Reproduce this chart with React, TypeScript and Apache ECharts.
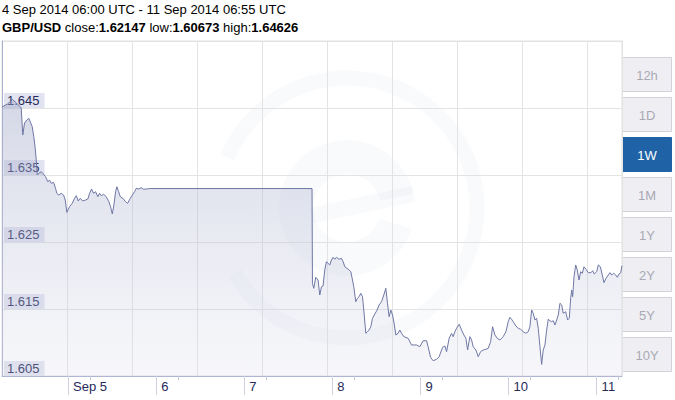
import React, { useEffect, useRef } from "react";
import * as echarts from "echarts";

// time in hours since 4 Sep 2014 00:00 UTC, and GBP/USD price
const hours = [
  6.0, 7.5, 8.86, 9.95, 11.24, 11.67, 12.14, 12.76, 13.31, 13.77,
  14.23, 14.67, 15.05, 15.33, 15.6, 16.03, 16.69, 17.12, 17.86, 18.49,
  18.95, 19.42, 20.04, 20.59, 20.94, 21.49, 22.14, 22.77, 23.23, 23.67,
  24.4, 25.14, 25.77, 26.23, 26.78, 27.32, 28.03, 28.77, 29.39, 29.86,
  30.4, 30.95, 31.49, 32.12, 32.59, 33.05, 33.68, 34.41, 35.12, 35.58,
  36.05, 36.48, 36.95, 37.3, 37.77, 38.23, 38.94, 39.67, 40.22, 40.96,
  41.5, 42.13, 42.59, 43.3, 43.96, 44.58, 45.32, 46.22, 90.47, 90.58,
  90.94, 91.48, 92.11, 92.57, 93.04, 93.47, 93.94, 94.4, 94.84, 95.3,
  95.76, 96.2, 96.66, 97.12, 97.83, 98.49, 98.93, 99.39, 100.02, 100.56,
  101.03, 101.49, 101.84, 102.39, 102.85, 103.29, 103.75, 104.21, 104.57, 105.12,
  105.58, 106.02, 106.48, 106.94, 107.57, 108.2, 108.74, 109.4, 110.02, 110.57,
  111.03, 111.47, 111.93, 112.4, 112.83, 113.3, 113.92, 114.39, 114.85, 115.48,
  116.65, 117.58, 118.94, 119.84, 120.74, 121.66, 122.1, 122.76, 123.46, 124.39,
  125.1, 126.03, 126.66, 127.12, 127.83, 128.48, 128.92, 129.38, 129.85, 130.56,
  131.21, 131.84, 132.38, 132.85, 133.47, 133.94, 134.37, 135.11, 135.74, 136.39,
  137.1, 137.84, 138.46, 139.12, 139.66, 140.29, 140.92, 141.65, 142.55, 143.29,
  143.91, 144.38, 144.84, 145.28, 146.01, 146.64, 147.3, 148.0, 148.74, 149.37,
  149.83, 150.3, 150.73, 151.2, 151.66, 152.1, 152.56, 153.02, 153.46, 153.92,
  154.39, 154.82, 155.28, 155.75, 156.18, 156.65, 157.11, 157.55, 158.01, 158.48,
  158.91, 159.57, 160.11, 160.55, 160.93, 161.21, 161.48, 161.84, 162.3, 162.74,
  163.2, 163.66, 164.1, 164.56, 165.11, 165.73, 166.47, 166.93, 167.37, 168.02,
  168.46, 169.01, 169.55, 170.01, 170.56, 171.18, 171.65, 172.11, 172.65, 173.2,
  173.64, 174.1, 174.56, 174.92,
];

const prices = [
  1.64515, 1.6456, 1.64626, 1.64575, 1.645, 1.64097, 1.64276, 1.64321, 1.64346, 1.64287,
  1.64221, 1.64072, 1.63898, 1.63724, 1.635, 1.63525, 1.63549, 1.63525, 1.63475, 1.634,
  1.63425, 1.63376, 1.63391, 1.63301, 1.63227, 1.63201, 1.63227, 1.63201, 1.63127, 1.62943,
  1.63027, 1.63078, 1.63152, 1.63191, 1.63112, 1.63152, 1.63112, 1.63127, 1.63142, 1.63227,
  1.63291, 1.63227, 1.63251, 1.63176, 1.63227, 1.63191, 1.63212, 1.63176, 1.63101, 1.63027,
  1.62918, 1.63052, 1.63251, 1.63325, 1.63251, 1.63176, 1.63152, 1.63101, 1.63078, 1.63152,
  1.63201, 1.63251, 1.63301, 1.63291, 1.6331, 1.63287, 1.63291, 1.63298, 1.63298, 1.61884,
  1.61809, 1.61973, 1.61933, 1.61709, 1.61833, 1.61843, 1.62082, 1.62206, 1.62182, 1.62157,
  1.62231, 1.62272, 1.62242, 1.62272, 1.62242, 1.62257, 1.62206, 1.62131, 1.62107, 1.62082,
  1.62057, 1.61933, 1.61833, 1.61609, 1.6166, 1.61684, 1.61734, 1.61684, 1.61485, 1.61137,
  1.61161, 1.61187, 1.61236, 1.61361, 1.61425, 1.61485, 1.6156, 1.61609, 1.61709, 1.61809,
  1.61585, 1.61385, 1.61485, 1.6141, 1.61287, 1.61112, 1.61137, 1.61187, 1.61137, 1.61087,
  1.61063, 1.60963, 1.60963, 1.60937, 1.61027, 1.61027, 1.60937, 1.60779, 1.60728, 1.60749,
  1.60788, 1.60928, 1.60948, 1.60863, 1.61063, 1.61137, 1.61087, 1.61161, 1.61212, 1.61272,
  1.61187, 1.61112, 1.61063, 1.60888, 1.61087, 1.61037, 1.60937, 1.60888, 1.60788, 1.60863,
  1.60888, 1.60899, 1.60913, 1.61012, 1.61236, 1.61112, 1.61063, 1.61037, 1.61087, 1.61161,
  1.6131, 1.61376, 1.61346, 1.6131, 1.61246, 1.61212, 1.61197, 1.61161, 1.61137, 1.61161,
  1.61236, 1.61485, 1.61436, 1.61336, 1.61361, 1.61212, 1.60937, 1.60673, 1.60888, 1.60963,
  1.61187, 1.61346, 1.61325, 1.6131, 1.61325, 1.61261, 1.61336, 1.6141, 1.61585, 1.6156,
  1.61436, 1.6146, 1.61336, 1.61361, 1.6166, 1.61784, 1.61684, 1.61982, 1.62157, 1.62082,
  1.61933, 1.62057, 1.62033, 1.62131, 1.62093, 1.62042, 1.62042, 1.62072, 1.62022, 1.62057,
  1.62157, 1.62131, 1.62007, 1.61893, 1.61958, 1.62007, 1.62042, 1.62007, 1.62033, 1.62007,
  1.61973, 1.62022, 1.62042, 1.62147,
];

const xMin = 6; // 4 Sep 2014 06:00 UTC
const xMax = 174 + 55 / 60; // 11 Sep 2014 06:55 UTC
const dayTickHours = [24, 48, 72, 96, 120, 144, 168];
const dayTickLabels = ["Sep 5", "6", "7", "8", "9", "10", "11"];
const minorTickHours = [30, 54, 78, 102, 126, 150, 174];
const yMin = 1.605;
const yMax = 1.655;
const yStep = 0.01;
const ranges = ["12h", "1D", "1W", "1M", "1Y", "2Y", "5Y", "10Y"];
const activeRange = "1W";
const headerRange = "4 Sep 2014 06:00 UTC - 11 Sep 2014 06:55 UTC";
const pair = "GBP/USD";

const FONT = '"Liberation Sans", Arial, sans-serif';

export default function App() {
  const ref = useRef<HTMLDivElement>(null);

  useEffect(() => {
    if (!ref.current) return;
    const chart = echarts.init(ref.current, null, { renderer: "svg" });

    const close = prices[prices.length - 1];
    const low = Math.min(...prices);
    const high = Math.max(...prices);

    const gridLeft = 2;
    const gridRight = 53;
    const plotWidth = 675 - gridLeft - gridRight;
    const gridSpan = plotWidth / 65;

    const wm = "rgba(190,195,218,0.09)";
    const cx = 347;
    const cy = 208;
    const deg = Math.PI / 180;

    const buttons = ranges.map((r, i) => {
      const active = r === activeRange;
      return {
        type: "group",
        x: 622.5,
        y: 57.5 + 40 * i,
        z: 10,
        children: [
          {
            type: "rect",
            shape: { x: 0, y: 0, width: 49, height: 34 },
            style: {
              fill: active ? "#1f63a6" : "#efeff3",
              stroke: active ? "#1f63a6" : "#d2d2da",
              lineWidth: 1,
            },
          },
          {
            type: "text",
            x: 24.5,
            y: 17.5,
            style: {
              text: r,
              fill: active ? "#ffffff" : "#a9a9b4",
              font: `13px ${FONT}`,
              align: "center",
              verticalAlign: "middle",
              textAlign: "center",
              textVerticalAlign: "middle",
            },
          },
        ],
      };
    });

    const watermark = [
      {
        type: "arc",
        z: -1,
        shape: { cx, cy, r: 130, startAngle: 203 * deg, endAngle: 510 * deg, clockwise: true },
        style: { stroke: wm, lineWidth: 15, fill: null },
      },
      {
        type: "group",
        z: -1,
        x: cx,
        y: cy,
        rotation: 12 * deg,
        children: [
          {
            type: "sector",
            shape: { cx: 0, cy: 0, r: 68, r0: 34, startAngle: 30 * deg, endAngle: 360 * deg, clockwise: true },
            style: { fill: wm },
          },
          {
            type: "rect",
            shape: { x: -36, y: -8, width: 104, height: 16 },
            style: { fill: wm },
          },
        ],
      },
    ];

    const option: any = {
      animation: false,
      title: [
        {
          text: headerRange,
          left: 2,
          top: 3,
          padding: 0,
          textStyle: { fontSize: 13, fontWeight: "normal", color: "#000", fontFamily: FONT },
        },
        {
          text: `{b|${pair}} close:{b|${close.toFixed(5)}} low:{b|${low.toFixed(5)}} high:{b|${high.toFixed(5)}}`,
          left: 2,
          top: 21,
          padding: 0,
          textStyle: {
            fontSize: 13,
            fontWeight: "normal",
            color: "#000",
            fontFamily: FONT,
            rich: { b: { fontWeight: "bold", fontSize: 13, color: "#000", fontFamily: FONT } },
          },
        },
      ],
      grid: {
        left: gridLeft,
        right: gridRight,
        top: 41,
        bottom: 24,
        show: true,
        borderColor: "#e0e0e0",
        borderWidth: 1,
        containLabel: false,
      },
      xAxis: [
        {
          type: "value",
          position: "bottom",
          min: 0,
          max: gridSpan,
          interval: 1,
          axisLine: { show: false },
          axisTick: { show: false },
          axisLabel: { show: false },
          splitLine: { show: true, lineStyle: { color: "#e3e3e3", width: 1 } },
        },
        {
          type: "value",
          position: "bottom",
          min: xMin,
          max: xMax,
          axisLine: { show: true, onZero: false, lineStyle: { color: "#b0b5d4", width: 1 } },
          axisTick: {
            show: true,
            customValues: dayTickHours,
            length: 19,
            lineStyle: { color: "#d0d1dc", width: 1 },
          },
          axisLabel: {
            show: true,
            customValues: dayTickHours,
            formatter: (v: number) => {
              const i = dayTickHours.indexOf(Math.round(v));
              return i >= 0 ? dayTickLabels[i] : "";
            },
            align: "left",
            padding: [0, 0, 0, 5],
            margin: 4,
            color: "#262a5a",
            fontSize: 13,
            fontFamily: FONT,
          },
          splitLine: { show: false },
        },
        {
          type: "value",
          position: "bottom",
          min: xMin,
          max: xMax,
          axisLine: { show: false },
          axisTick: {
            show: true,
            customValues: minorTickHours,
            length: 4,
            lineStyle: { color: "#c6c8d8", width: 1 },
          },
          axisLabel: { show: false },
          splitLine: { show: false },
        },
      ],
      yAxis: {
        type: "value",
        min: yMin,
        max: yMax,
        interval: yStep,
        axisLine: { show: true, lineStyle: { color: "#aab0cf", width: 1 } },
        axisTick: { show: false },
        splitLine: { show: true, lineStyle: { color: "#e3e3e3", width: 1 } },
        axisLabel: {
          inside: true,
          showMaxLabel: false,
          showMinLabel: true,
          margin: 2,
          verticalAlign: "bottom",
          align: "left",
          formatter: (v: number) => v.toFixed(3),
          color: "#262a5a",
          fontSize: 13,
          fontFamily: FONT,
          lineHeight: 13,
          backgroundColor: "rgba(220,222,237,0.85)",
          padding: [1, 5, 1, 3],
        },
      },
      graphic: [...watermark, ...buttons],
      series: [
        {
          type: "line",
          xAxisIndex: 1,
          yAxisIndex: 0,
          data: hours.map((h, i) => [h, prices[i]]),
          showSymbol: false,
          symbol: "none",
          lineStyle: { color: "#6f77a5", width: 1 },
          areaStyle: {
            color: new echarts.graphic.LinearGradient(0, 0, 0, 1, [
              { offset: 0, color: "rgba(160,166,200,0.64)" },
              { offset: 1, color: "rgba(215,217,232,0.3)" },
            ]),
          },
          z: 2,
        },
      ],
    };

    chart.setOption(option);
    return () => chart.dispose();
  }, []);

  return (
    <div
      ref={ref}
      style={{ position: "fixed", left: 0, top: 0, width: 675, height: 400, background: "#fff" }}
    />
  );
}
